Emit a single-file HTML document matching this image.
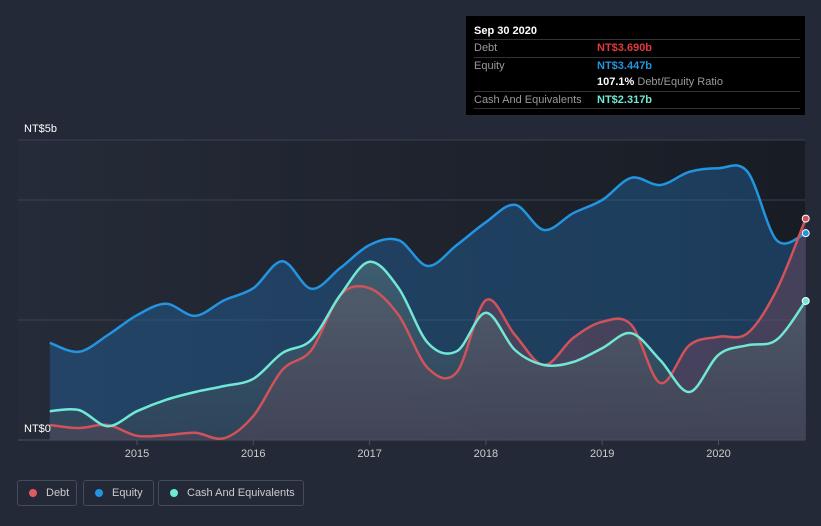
<!DOCTYPE html>
<html><head><meta charset="utf-8">
<style>
html,body{margin:0;padding:0;background:#232936;width:821px;height:526px;overflow:hidden;font-family:"Liberation Sans",sans-serif;}
#tt{position:absolute;left:466px;top:16px;width:339px;height:99px;background:#000;box-sizing:border-box;padding:0 5px 0 8px;font-size:11px;color:#999;}
#tt .row{height:16.5px;line-height:16.5px;border-bottom:1px solid #333;position:relative;}
#tt .v{position:absolute;left:123px;top:0;font-weight:bold;}
.lg{position:absolute;top:480px;height:26px;border:1px solid #444b59;border-radius:3px;box-sizing:border-box;color:#ccc;font-size:11px;line-height:24px;padding-left:28px;}
.lg i{position:absolute;left:11px;top:8px;width:8px;height:8px;border-radius:50%;}
</style></head><body>
<svg id="chart" width="821" height="526" style="position:absolute;left:0;top:0">
<defs>
<linearGradient id="bg" x1="0" x2="1" y1="0" y2="0"><stop offset="0" stop-color="#252b38"/><stop offset="1" stop-color="#181c24"/></linearGradient>
<linearGradient id="cf" x1="0" x2="0" y1="0" y2="1"><stop offset="0" stop-color="#5a7a7e" stop-opacity="0.85"/><stop offset="1" stop-color="#3a4550" stop-opacity="0.8"/></linearGradient>
</defs>
<rect x="18" y="140" width="787" height="300" fill="url(#bg)"/>
<g id="grid"></g><g id="areas"></g><g id="lines"></g><g id="xt"></g>
<text x="24" y="132" fill="#fff" font-size="11">NT$5b</text>
<text x="24" y="432" fill="#fff" font-size="11">NT$0</text>
</svg>
<div id="tt">
<div class="row" style="color:#fff;font-weight:bold;font-size:11px;height:23px;line-height:30px">Sep 30 2020</div>
<div class="row">Debt<span class="v" style="color:#e0393e">NT$3.690b</span></div>
<div class="row" style="border:none">Equity<span class="v" style="color:#2394df">NT$3.447b</span></div>
<div class="row"><span class="v" style="color:#fff">107.1% <span style="color:#999;font-weight:normal">Debt/Equity Ratio</span></span></div>
<div class="row">Cash And Equivalents<span class="v" style="color:#71e7d6">NT$2.317b</span></div>
</div>
<div class="lg" style="left:17px;width:60px"><i style="background:#e05a61"></i>Debt</div>
<div class="lg" style="left:83px;width:71px"><i style="background:#2394df"></i>Equity</div>
<div class="lg" style="left:158px;width:146px"><i style="background:#71e7d6"></i>Cash And Equivalents</div>
<script>
const startYear = 2014.25, step = 0.25;
const equity = [1.62,1.47,1.75,2.08,2.27,2.07,2.33,2.53,2.98,2.52,2.87,3.25,3.33,2.90,3.25,3.63,3.92,3.50,3.78,4.00,4.37,4.25,4.47,4.53,4.47,3.33,3.447];
const debt = [0.25,0.20,0.25,0.07,0.08,0.12,0.03,0.40,1.17,1.50,2.42,2.53,2.08,1.20,1.13,2.33,1.75,1.25,1.70,1.97,1.92,0.95,1.58,1.72,1.78,2.50,3.69];
const cash = [0.48,0.50,0.23,0.48,0.67,0.80,0.90,1.02,1.45,1.67,2.42,2.97,2.53,1.62,1.48,2.12,1.50,1.25,1.30,1.53,1.78,1.33,0.80,1.42,1.58,1.67,2.317];
const xTicks = [2015,2016,2017,2018,2019,2020];
const gridVals = [0,2,4,5];
const NS="http://www.w3.org/2000/svg";
const X = y => 137 + (y-2015)*116.3;
const Y = v => 440 - v*60;
function mk(tag,attrs,parent){const e=document.createElementNS(NS,tag);for(const k in attrs)e.setAttribute(k,attrs[k]);document.getElementById(parent).appendChild(e);return e;}
function pts(arr){return arr.map((v,i)=>[X(startYear+i*step),Y(v)]);}
function path(p){let d=`M${p[0][0]},${p[0][1]}`;for(let i=0;i<p.length-1;i++){const p0=p[i-1]||p[i],p1=p[i],p2=p[i+1],p3=p[i+2]||p2;d+=` C${p1[0]+(p2[0]-p0[0])/6},${p1[1]+(p2[1]-p0[1])/6} ${p2[0]-(p3[0]-p1[0])/6},${p2[1]-(p3[1]-p1[1])/6} ${p2[0]},${p2[1]}`;}return d;}
gridVals.forEach(v=>{const l=mk('line',{x1:18,x2:805,y1:Y(v),y2:Y(v),stroke:v===0?'#4a5160':'#3b4250','stroke-width':1},'grid');
});
xTicks.forEach(t=>{const l=mk('line',{x1:X(t),x2:X(t),y1:440,y2:445,stroke:'#4a5160'},'xt');

const tx=mk('text',{x:X(t),y:457,'text-anchor':'middle',fill:'#ccc','font-size':11},'xt');tx.textContent=t;
});
const series=[[equity,'#2394df','rgba(35,100,160,0.45)','equity'],[debt,'#d0535b','rgba(120,70,90,0.45)','debt'],[cash,'#71e7d6','url(#cf)','cash']];
series.forEach(([arr,col,fill,name])=>{const p=pts(arr),d=path(p);const last=p[p.length-1];
const a=mk('path',{d:d+` L${last[0]},440 L${p[0][0]},440 Z`,fill:fill,opacity:name==='cash'?0.6:1},'areas');

const l=mk('path',{d:d,fill:'none',stroke:col,'stroke-width':2.5},'lines');

const c=mk('circle',{cx:last[0],cy:last[1],r:3.5,fill:col,stroke:'#fff','stroke-width':1},'lines');
});
</script>
</body></html>
